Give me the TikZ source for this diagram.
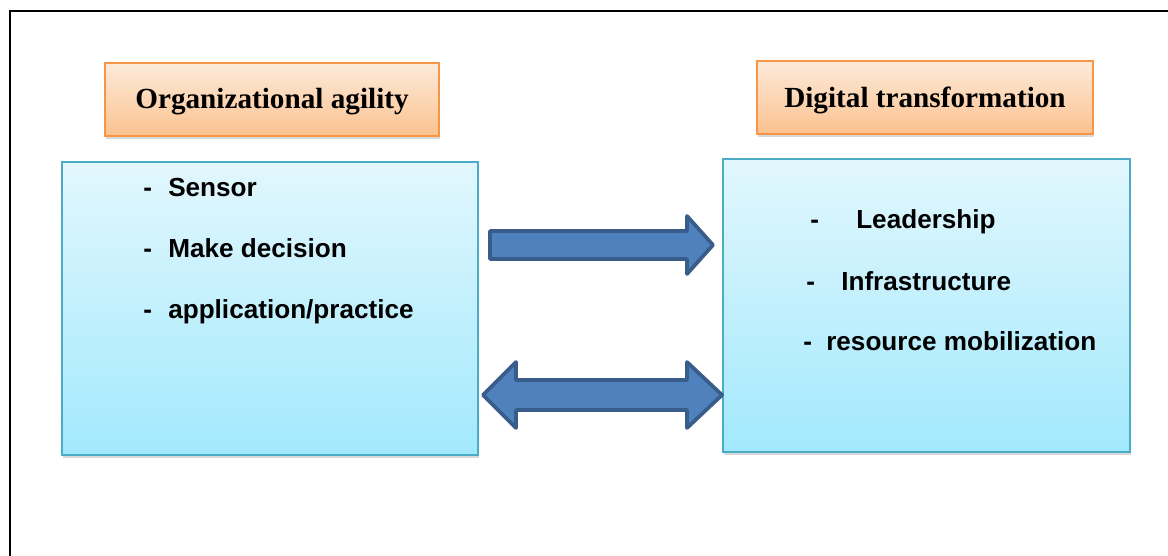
\documentclass[tikz,border=0pt]{standalone}
\usepackage{fontspec}
\setmainfont{Liberation Serif}
\newfontfamily\arialfont{Liberation Sans}
\usetikzlibrary{shadows}
\definecolor{orgborder}{HTML}{F79646}
\definecolor{orgtop}{HTML}{FDEADA}
\definecolor{orgbot}{HTML}{FBC28F}
\definecolor{bluborder}{HTML}{4BACC6}
\definecolor{blutop}{HTML}{E2F7FD}
\definecolor{blubot}{HTML}{A2E9FD}
\definecolor{arrfill}{HTML}{4F81BD}
\definecolor{arrline}{HTML}{385D8A}
\tikzset{
  titlebox/.style={draw=orgborder, line width=1.5pt, top color=orgtop, bottom color=orgbot,
    drop shadow={opacity=0.3, shadow xshift=0.5pt, shadow yshift=-2.5pt}},
  listbox/.style={draw=bluborder, line width=1.5pt, top color=blutop, bottom color=blubot,
    drop shadow={opacity=0.3, shadow xshift=0.5pt, shadow yshift=-2.5pt}},
  titletext/.style={font=\fontsize{21.9}{24}\selectfont\bfseries, anchor=center, inner sep=0pt},
  itemtext/.style={font=\arialfont\fontsize{19.6}{22}\selectfont\bfseries, anchor=west, inner sep=0pt,
    text height=0.72em, text depth=0pt},
  blockarrow/.style={fill=arrfill, draw=arrline, line width=2.8pt, line join=round},
  frame/.style={line width=1.6pt, black}
}
\begin{document}
\begin{tikzpicture}[x=0.75pt,y=-0.75pt]
\useasboundingbox (0,0) rectangle (1168,556);
% frame
\coordinate (fb) at (10,556);
\coordinate (fc) at (10,11);
\coordinate (fr) at (1168,11);
\draw[frame] (fb) -- (fc) -- (fr);
% title boxes
\path[titlebox] (105,63) rectangle (439,136);
\node[titletext] (t1) at (272,102) {Organizational agility};
\path[titlebox] (757,61) rectangle (1093,134);
\node[titletext] (t2) at (925,100) {Digital transformation};
% list boxes
\path[listbox] (62,162) rectangle (478,455);
\path[listbox] (723,159) rectangle (1130,452);
% left items
\node[itemtext] (l1d) at (143,192) {-};
\node[itemtext] (l1) at (168,192) {Sensor};
\node[itemtext] (l2d) at (143,253) {-};
\node[itemtext] (l2) at (168,253) {Make decision};
\node[itemtext] (l3d) at (143,314) {-};
\node[itemtext] (l3) at (168,314) {application/practice};
% right items
\node[itemtext] (r1d) at (810,224) {-};
\node[itemtext] (r1) at (856,224) {Leadership};
\node[itemtext] (r2d) at (806,286) {-};
\node[itemtext] (r2) at (841,286) {Infrastructure};
\node[itemtext] (r3d) at (803,346) {-};
\node[itemtext] (r3) at (826,346) {resource mobilization};
% single arrow
\draw[blockarrow] (490,231) -- (687,231) -- (687,216) -- (713,245) -- (687,274) -- (687,259) -- (490,259) -- cycle;
% double arrow
\draw[blockarrow] (483,395) -- (516,362) -- (516,380) -- (687,380) -- (687,362) -- (722,395)
  -- (687,428) -- (687,410) -- (516,410) -- (516,428) -- cycle;
\end{tikzpicture}
\end{document}
